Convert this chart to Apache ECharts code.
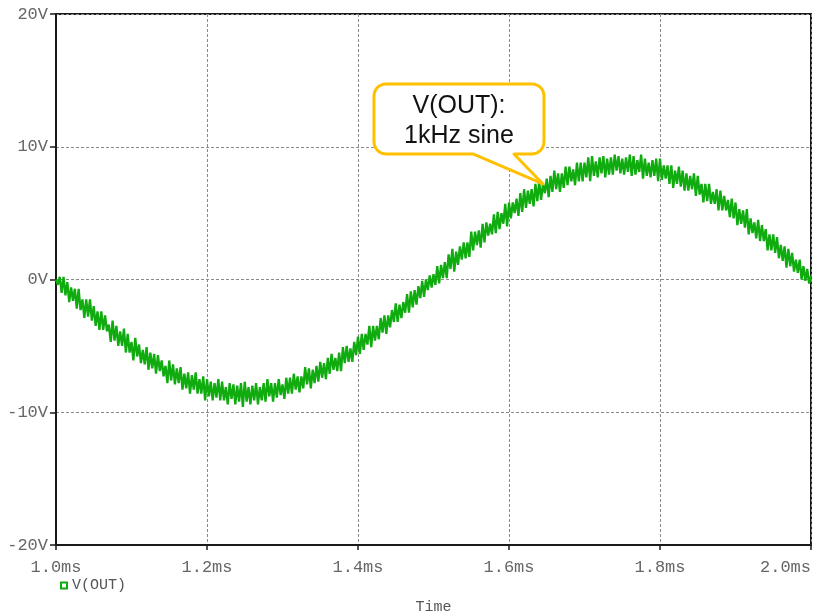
<!DOCTYPE html>
<html>
<head>
<meta charset="utf-8">
<title>V(OUT) transient</title>
<script src="https://cdn.jsdelivr.net/npm/echarts@6/dist/echarts.min.js"></script>
<style>
  html, body { margin: 0; padding: 0; background: #fff; }
  #chart { width: 813px; height: 616px; }
</style>
</head>
<body>
<div id="chart"></div>
<script>
// Time base of the transient trace (ms): samples every 2.5 us,
// stored as two interleaved sets offset by half a step.
const timeStartMs = 1.0;
const timeStepMs = 0.005;

// V(OUT) in volts at t = 1.0 ms + k * 5 us (k = 0..200)
const vOutA = [
  0.0, 0.2, 0.2, -0.2, -0.6, -0.7, -0.7, -1.5, -1.5, -1.5,
  -2.0, -2.4, -2.4, -2.7, -3.4, -3.1, -3.5, -3.9, -3.7, -4.1,
  -4.7, -4.4, -4.9, -5.3, -5.1, -5.5, -5.6, -5.7, -6.1, -6.5,
  -6.1, -6.4, -6.7, -6.6, -7.1, -7.0, -7.2, -7.0, -7.5, -7.3,
  -7.5, -7.7, -7.8, -7.5, -7.7, -8.1, -7.8, -7.9, -8.0, -7.8,
  -7.7, -8.1, -8.0, -7.8, -8.1, -7.8, -7.5, -7.8, -7.8, -7.5,
  -7.9, -7.4, -7.4, -7.1, -7.3, -7.3, -6.6, -6.7, -6.8, -6.5,
  -6.2, -6.3, -5.9, -5.6, -5.9, -5.5, -5.1, -5.0, -5.2, -4.7,
  -4.3, -4.1, -4.1, -3.5, -3.5, -3.5, -2.9, -2.7, -2.7, -2.3,
  -1.8, -1.9, -1.7, -1.1, -0.9, -0.8, -0.5, -0.1, 0.0, 0.3,
  0.4, 1.0, 1.1, 1.3, 1.9, 2.3, 2.1, 2.5, 2.8, 2.8,
  3.6, 3.6, 3.7, 4.2, 4.3, 4.2, 4.9, 5.1, 5.0, 5.7,
  5.8, 5.8, 6.1, 6.5, 6.8, 6.7, 6.8, 7.2, 7.4, 7.2,
  7.6, 7.8, 8.2, 8.0, 8.0, 8.5, 8.5, 8.3, 8.8, 8.8,
  8.8, 9.2, 9.3, 8.9, 9.2, 9.3, 9.1, 9.2, 9.4, 9.3,
  9.1, 9.2, 9.4, 9.3, 9.0, 9.4, 9.1, 8.8, 9.0, 9.1,
  9.1, 8.6, 8.6, 8.6, 8.2, 8.5, 8.2, 8.0, 7.8, 8.0,
  7.8, 7.2, 7.2, 7.2, 6.6, 6.8, 6.7, 6.3, 6.0, 6.1,
  5.8, 5.3, 5.2, 5.3, 4.6, 4.3, 4.5, 4.1, 3.8, 3.4,
  3.4, 3.2, 2.6, 2.5, 2.3, 2.0, 1.5, 1.5, 1.0, 0.8,
  0.3
];

// V(OUT) in volts at t = 1.0025 ms + k * 5 us (k = 0..199)
const vOutB = [
  -0.4, -1.0, -1.2, -1.7, -1.6, -2.2, -2.3, -2.9, -2.8, -3.1,
  -3.5, -3.8, -3.8, -3.9, -4.7, -4.6, -5.0, -5.0, -5.5, -5.5,
  -6.1, -5.8, -6.3, -6.4, -6.8, -6.7, -7.1, -6.9, -7.3, -7.8,
  -7.6, -7.9, -7.8, -8.3, -8.2, -8.6, -8.3, -8.6, -8.6, -9.1,
  -8.8, -9.1, -8.9, -9.1, -9.1, -9.4, -9.0, -9.4, -9.2, -9.6,
  -9.2, -9.4, -9.1, -9.4, -9.1, -9.2, -8.8, -9.2, -8.9, -8.7,
  -9.0, -8.6, -8.6, -8.3, -8.5, -8.2, -7.9, -8.2, -7.8, -7.7,
  -7.4, -7.5, -7.1, -6.8, -6.9, -6.9, -6.3, -6.2, -6.2, -5.7,
  -5.6, -5.3, -4.9, -5.1, -4.6, -4.5, -4.0, -4.1, -3.6, -3.2,
  -3.2, -2.9, -2.5, -2.5, -2.1, -1.9, -1.4, -1.3, -0.8, -0.6,
  -0.4, -0.3, 0.1, 0.1, 0.8, 0.6, 1.1, 1.5, 1.6, 1.7,
  2.2, 2.6, 2.4, 2.8, 3.3, 3.4, 3.5, 3.8, 4.2, 4.0,
  4.6, 5.0, 4.8, 5.1, 5.4, 5.7, 5.5, 5.9, 6.0, 6.5,
  6.2, 6.6, 6.8, 6.6, 6.9, 7.1, 7.4, 7.1, 7.4, 7.4,
  7.7, 7.4, 7.8, 7.7, 8.0, 7.7, 7.9, 7.9, 8.2, 8.0,
  7.9, 8.1, 7.8, 7.9, 8.1, 7.6, 7.8, 7.7, 7.8, 7.4,
  7.5, 7.6, 7.2, 6.9, 7.2, 7.0, 6.7, 6.7, 6.8, 6.3,
  6.4, 5.8, 5.9, 5.7, 5.7, 5.2, 5.2, 5.2, 4.7, 4.6,
  4.1, 4.2, 3.9, 3.4, 3.5, 3.1, 2.9, 2.9, 2.2, 2.2,
  2.0, 1.6, 1.4, 0.9, 1.0, 0.6, 0.5, 0.0, -0.1, -0.3
];

// Axis ranges and tick labels
const xTicksMs = [1.0, 1.2, 1.4, 1.6, 1.8, 2.0];
const xTickLabels = ['1.0ms', '1.2ms', '1.4ms', '1.6ms', '1.8ms', '2.0ms'];
const yTicksV = [-20, -10, 0, 10, 20];
const yTickLabels = ['-20V', '-10V', '0V', '10V', '20V'];

// Callout text and the trace point it points at
const calloutText = ['V(OUT):', '1kHz sine'];
const calloutTip = [1.645, 7.2];

// Merge both sample sets into one time-ordered trace
const seriesData = [];
vOutA.forEach((v, i) => {
  seriesData.push([timeStartMs + i * timeStepMs, v]);
  if (i < vOutB.length) {
    seriesData.push([timeStartMs + (i + 0.5) * timeStepMs, vOutB[i]]);
  }
});

const mono = '"Liberation Mono", "Courier New", monospace';
const traceColor = '#0fab0f';

const chart = echarts.init(document.getElementById('chart'), null, { renderer: 'canvas' });

chart.setOption({
  animation: false,
  backgroundColor: '#ffffff',
  grid: {
    left: 56, right: 2, top: 14, bottom: 71,
    outerBoundsMode: 'none', containLabel: false,
    show: true, borderColor: '#1a1a1a', borderWidth: 2, backgroundColor: 'transparent'
  },
  legend: {
    data: ['V(OUT)'],
    left: 55, top: 573,
    icon: 'rect', itemWidth: 6, itemHeight: 6, itemGap: 8,
    itemStyle: { color: '#ffffff', borderColor: traceColor, borderWidth: 2 },
    textStyle: { fontFamily: mono, fontSize: 15, color: '#555' }
  },
  xAxis: {
    type: 'value',
    min: xTicksMs[0], max: xTicksMs[xTicksMs.length - 1], interval: 0.2,
    name: 'Time', nameLocation: 'middle', nameGap: 55,
    nameTextStyle: { fontFamily: mono, fontSize: 15, color: '#555' },
    axisLine: { show: true, onZero: false, lineStyle: { color: '#1a1a1a', width: 2 } },
    axisTick: { show: true, length: 5, inside: false, lineStyle: { color: '#1a1a1a', width: 1.5 } },
    axisLabel: {
      fontFamily: mono, fontSize: 17, color: '#666', margin: 14,
      alignMaxLabel: 'right',
      formatter: v => {
        const i = xTicksMs.findIndex(t => Math.abs(t - v) < 1e-6);
        return i >= 0 ? xTickLabels[i] : '';
      }
    },
    splitLine: { show: true, lineStyle: { color: '#8a8a8a', width: 1, type: [3, 2] } }
  },
  yAxis: {
    type: 'value',
    min: yTicksV[0], max: yTicksV[yTicksV.length - 1], interval: 10,
    axisLine: { show: true, onZero: false, lineStyle: { color: '#1a1a1a', width: 2 } },
    axisTick: { show: true, length: 6, lineStyle: { color: '#1a1a1a', width: 1.5 } },
    axisLabel: {
      fontFamily: mono, fontSize: 17, color: '#666', margin: 8,
      formatter: v => {
        const i = yTicksV.indexOf(v);
        return i >= 0 ? yTickLabels[i] : '';
      }
    },
    splitLine: { show: true, lineStyle: { color: '#8a8a8a', width: 1, type: [3, 2] } }
  },
  series: [{
    name: 'V(OUT)',
    type: 'line',
    data: seriesData,
    showSymbol: false,
    symbol: 'rect',
    sampling: false,
    lineStyle: { color: traceColor, width: 2.3 },
    itemStyle: { color: traceColor },
    z: 3
  }]
});

// Points along a quarter-circle corner
function arcPoints(cx, cy, r, a0, a1, steps) {
  const pts = [];
  for (let s = 0; s <= steps; s++) {
    const a = a0 + (a1 - a0) * s / steps;
    pts.push([cx + r * Math.cos(a), cy + r * Math.sin(a)]);
  }
  return pts;
}

// Speech-bubble callout anchored to a point on the trace
function drawCallout() {
  const tip = chart.convertToPixel({ gridIndex: 0 }, calloutTip);
  const tx = tip[0], ty = tip[1];
  const x0 = tx - 169, x1 = tx + 1, y0 = ty - 100, y1 = ty - 30, r = 12;
  const tailL = tx - 70, tailR = tx - 29;
  const PI = Math.PI;
  const pts = [].concat(
    arcPoints(x1 - r, y0 + r, r, -PI / 2, 0, 6),
    arcPoints(x1 - r, y1 - r, r, 0, PI / 2, 6),
    [[tailR, y1], [tx, ty], [tailL, y1]],
    arcPoints(x0 + r, y1 - r, r, PI / 2, PI, 6),
    arcPoints(x0 + r, y0 + r, r, PI, 1.5 * PI, 6)
  );
  chart.setOption({
    graphic: [
      {
        type: 'polygon', z: 10,
        shape: { points: pts },
        style: { fill: '#ffffff', stroke: '#ffc000', lineWidth: 3, lineJoin: 'round' }
      },
      {
        type: 'text', z: 11,
        x: (x0 + x1) / 2, y: (y0 + y1) / 2 + 2,
        style: {
          text: calloutText.join('\n'),
          fontFamily: '"Liberation Sans", Arial, sans-serif',
          fontSize: 25, lineHeight: 30, fill: '#111',
          align: 'center', verticalAlign: 'middle'
        }
      }
    ]
  });
}
drawCallout();
</script>
</body>
</html>
